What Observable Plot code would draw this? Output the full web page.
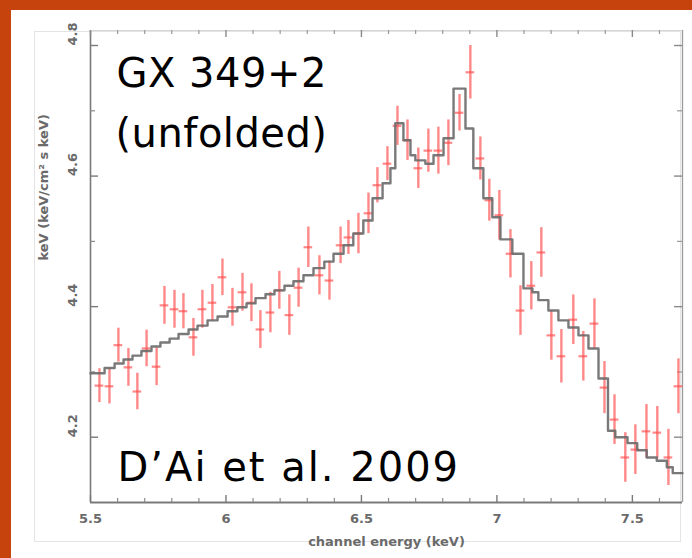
<!DOCTYPE html>
<html>
<head>
<meta charset="utf-8">
<script src="https://cdn.jsdelivr.net/npm/d3@7"></script>
<script src="https://cdn.jsdelivr.net/npm/@observablehq/plot@0.6"></script>
<style>
  html, body { margin: 0; padding: 0; }
  body { width: 692px; height: 558px; background: #c7430e; position: relative; overflow: hidden; }
  #sheet { position: absolute; left: 11px; top: 10px; width: 681px; height: 548px; background: #fff; }
  #panel { position: absolute; left: 34px; top: 31px; width: 647px; height: 511px; border: 1px solid #e4e4e4; box-sizing: border-box; }
  #chart { position: absolute; left: 0; top: 0; width: 692px; height: 558px; }
</style>
</head>
<body>
<div id="sheet"></div>
<div id="panel"></div>
<div id="chart"></div>
<script>
// Channel energies (keV) of the unfolded spectrum bins
const energy = [
  5.533, 5.570, 5.603, 5.640, 5.673, 5.707, 5.744, 5.773, 5.810, 5.843,
  5.880, 5.913, 5.950, 5.987, 6.024, 6.061, 6.094, 6.127, 6.164, 6.197,
  6.234, 6.268, 6.304, 6.345, 6.382, 6.423, 6.452, 6.489, 6.526, 6.559,
  6.596, 6.633, 6.670, 6.710, 6.747, 6.784, 6.821, 6.862, 6.902, 6.939,
  6.972, 7.009, 7.050, 7.087, 7.127, 7.164, 7.201, 7.238, 7.282, 7.319,
  7.360, 7.397, 7.434, 7.474, 7.511, 7.552, 7.592, 7.633, 7.670
];
// Unfolded flux, keV (keV/cm² s keV)
const flux = [
  4.279, 4.278, 4.341, 4.307, 4.270, 4.336, 4.308, 4.402, 4.396, 4.393,
  4.353, 4.396, 4.406, 4.445, 4.399, 4.422, 4.406, 4.365, 4.391, 4.425,
  4.387, 4.429, 4.491, 4.448, 4.440, 4.494, 4.506, 4.512, 4.543, 4.586,
  4.619, 4.677, 4.655, 4.612, 4.639, 4.639, 4.651, 4.697, 4.759, 4.627,
  4.563, 4.540, 4.481, 4.394, 4.432, 4.483, 4.356, 4.324, 4.380, 4.324,
  4.374, 4.276, 4.227, 4.169, 4.181, 4.209, 4.207, 4.169, 4.278
];
// 1-sigma flux errors
const fluxErr = [
  0.026, 0.027, 0.026, 0.029, 0.028, 0.028, 0.029, 0.029, 0.029, 0.027,
  0.029, 0.029, 0.028, 0.028, 0.029, 0.029, 0.029, 0.029, 0.031, 0.029,
  0.031, 0.030, 0.031, 0.030, 0.030, 0.028, 0.026, 0.031, 0.031, 0.027,
  0.026, 0.030, 0.031, 0.031, 0.033, 0.036, 0.035, 0.028, 0.041, 0.033,
  0.032, 0.038, 0.037, 0.038, 0.037, 0.038, 0.038, 0.041, 0.038, 0.038,
  0.038, 0.040, 0.038, 0.038, 0.038, 0.041, 0.040, 0.043, 0.042
];
// Half-width of each channel (keV)
const halfBin = 0.016;

// Best-fit model, one value per model bin between consecutive edges
const modelEdge = [
  5.500, 5.552, 5.589, 5.622, 5.655, 5.688, 5.725, 5.758, 5.792, 5.825,
  5.862, 5.895, 5.932, 5.969, 6.006, 6.042, 6.076, 6.109, 6.146, 6.179,
  6.216, 6.249, 6.286, 6.323, 6.363, 6.397, 6.434, 6.470, 6.507, 6.541,
  6.578, 6.607, 6.625, 6.655, 6.681, 6.699, 6.736, 6.766, 6.803, 6.840,
  6.884, 6.913, 6.950, 6.983, 7.013, 7.057, 7.098, 7.131, 7.153, 7.190,
  7.227, 7.264, 7.301, 7.338, 7.375, 7.410, 7.437, 7.482, 7.518, 7.553,
  7.590, 7.627, 7.649, 7.685
];
const modelFlux = [
  4.298, 4.306, 4.313, 4.319, 4.325, 4.332, 4.339, 4.345, 4.351, 4.358,
  4.365, 4.371, 4.379, 4.385, 4.393, 4.399, 4.405, 4.413, 4.419, 4.425,
  4.432, 4.439, 4.448, 4.459, 4.469, 4.481, 4.494, 4.512, 4.532, 4.566,
  4.589, 4.612, 4.681, 4.655, 4.632, 4.624, 4.619, 4.632, 4.658, 4.734,
  4.673, 4.612, 4.566, 4.537, 4.503, 4.481, 4.428, 4.422, 4.410, 4.394,
  4.379, 4.368, 4.356, 4.336, 4.290, 4.210, 4.200, 4.191, 4.180, 4.169,
  4.164, 4.154, 4.145
];

// Axis ticks and ranges
const xDomain = [5.5, 7.685];
const yDomain = [4.1, 4.823];
const xMajor = [5.5, 6, 6.5, 7, 7.5];
const xMajorLabels = ["5.5", "6", "6.5", "7", "7.5"];
const xMinor = [5.6, 5.7, 5.8, 5.9, 6.1, 6.2, 6.3, 6.4, 6.6, 6.7, 6.8, 6.9, 7.1, 7.2, 7.3, 7.4, 7.6];
const yMajor = [4.2, 4.4, 4.6, 4.8];
const yMajorLabels = ["4.2", "4.4", "4.6", "4.8"];
const yMinor = [4.3, 4.5, 4.7];

const xTitle = "channel energy (keV)";
const yTitle = "keV (keV/cm\u00b2 s keV)";
const source = "GX 349+2";
const mode = "(unfolded)";
const citation = "D\u2019Ai et al. 2009";

const points = energy.map((e, i) => ({e, f: flux[i], err: fluxErr[i]}));
const model = modelFlux.map((f, i) => ({e: modelEdge[i], f}));
model.push({e: modelEdge[modelEdge.length - 1], f: modelFlux[modelFlux.length - 1]});

const W = 692, H = 546;
const mL = 90, mR = 10, mT = 30, mB = 44;
const fw = W - mL - mR, fh = H - mT - mB;

const labelFont = "DejaVu Sans, sans-serif";
const noteFont = "DejaVu Sans, sans-serif";
const axisGray = "#6a6a6a";

const plot = Plot.plot({
  width: W,
  height: H,
  marginLeft: mL,
  marginRight: mR,
  marginTop: mT,
  marginBottom: mB,
  style: {background: "transparent", overflow: "visible"},
  x: {domain: xDomain, axis: null},
  y: {domain: yDomain, axis: null},
  marks: [
    // frame
    Plot.ruleX([xDomain[0]], {stroke: "#7a7a7a", strokeWidth: 1.6}),
    Plot.ruleX([xDomain[1]], {stroke: "#9a9a9a", strokeWidth: 1.3}),
    Plot.ruleY([yDomain[0]], {stroke: "#7a7a7a", strokeWidth: 2.2}),
    Plot.ruleY([yDomain[1]], {stroke: "#d6d6d6", strokeWidth: 1}),
    // inward ticks, left and right
    Plot.tickY(yMajor, {y: d => d, stroke: "#7a7a7a", strokeWidth: 1.4, insetRight: fw - 8}),
    Plot.tickY(yMinor, {y: d => d, stroke: "#8a8a8a", strokeWidth: 1.2, insetRight: fw - 5}),
    Plot.tickY(yMajor, {y: d => d, stroke: "#8a8a8a", strokeWidth: 1.4, insetLeft: fw - 8}),
    Plot.tickY(yMinor, {y: d => d, stroke: "#9a9a9a", strokeWidth: 1.2, insetLeft: fw - 5}),
    // inward ticks, bottom and top
    Plot.tickX(xMajor, {x: d => d, stroke: "#7a7a7a", strokeWidth: 1.4, insetTop: fh - 7}),
    Plot.tickX(xMinor, {x: d => d, stroke: "#8a8a8a", strokeWidth: 1.2, insetTop: fh - 4}),
    Plot.tickX(xMajor, {x: d => d, stroke: "#8a8a8a", strokeWidth: 1.4, insetBottom: fh - 7}),
    Plot.tickX(xMinor, {x: d => d, stroke: "#9a9a9a", strokeWidth: 1.2, insetBottom: fh - 4}),
    // tick labels
    Plot.text(xMajor, {x: d => d, text: (d, i) => xMajorLabels[i], frameAnchor: "bottom", dy: 16,
      fontSize: 13, fontFamily: labelFont, fill: axisGray, fontWeight: "bold", lineAnchor: "middle"}),
    Plot.text(yMajor, {y: d => d, text: (d, i) => yMajorLabels[i], frameAnchor: "left", dx: -18,
      rotate: -90, fontSize: 13, fontFamily: labelFont, fill: axisGray, fontWeight: "bold", lineAnchor: "middle"}),
    // axis titles
    Plot.text([xTitle], {text: d => d, frameAnchor: "bottom", dy: 39, fontSize: 13,
      fontFamily: labelFont, fill: axisGray, fontWeight: "bold", lineAnchor: "middle"}),
    Plot.text([yTitle], {text: d => d, frameAnchor: "left", dx: -47, dy: -6, rotate: -90, fontSize: 13,
      fontFamily: labelFont, fill: axisGray, fontWeight: "bold", lineAnchor: "middle"}),
    // data: vertical error bars and channel widths
    Plot.ruleX(points, {x: "e", y1: d => d.f - d.err, y2: d => d.f + d.err,
      stroke: "#ff4a4a", strokeOpacity: 0.65, strokeWidth: 2.4}),
    Plot.ruleY(points, {y: "f", x1: d => d.e - halfBin, x2: d => d.e + halfBin,
      stroke: "#ff4a4a", strokeOpacity: 0.65, strokeWidth: 2.2}),
    // model
    Plot.line(model, {x: "e", y: "f", curve: "step-after", stroke: "#6a6a6a", strokeWidth: 2.4, strokeOpacity: 0.9}),
    // annotations
    Plot.text([source], {text: d => d, frameAnchor: "top-left", dx: 26, dy: 44, textAnchor: "start",
      lineAnchor: "middle", fontSize: 40, fontFamily: noteFont, fill: "#000"}),
    Plot.text([mode], {text: d => d, frameAnchor: "top-left", dx: 25, dy: 104, textAnchor: "start",
      lineAnchor: "middle", fontSize: 40, fontFamily: noteFont, fill: "#000"}),
    Plot.text([citation], {text: d => d, frameAnchor: "top-left", dx: 27, dy: 438, textAnchor: "start",
      lineAnchor: "middle", fontSize: 40, fontFamily: noteFont, fill: "#000"})
  ]
});

// widen the hand-lettered annotations a little
const spacing = new Map([[source, "0.5px"], [mode, "0.5px"], [citation, "2px"]]);
d3.select(plot).selectAll("text").each(function () {
  const s = spacing.get(this.textContent);
  if (s) this.style.letterSpacing = s;
});

document.getElementById("chart").appendChild(plot);
</script>
</body>
</html>
